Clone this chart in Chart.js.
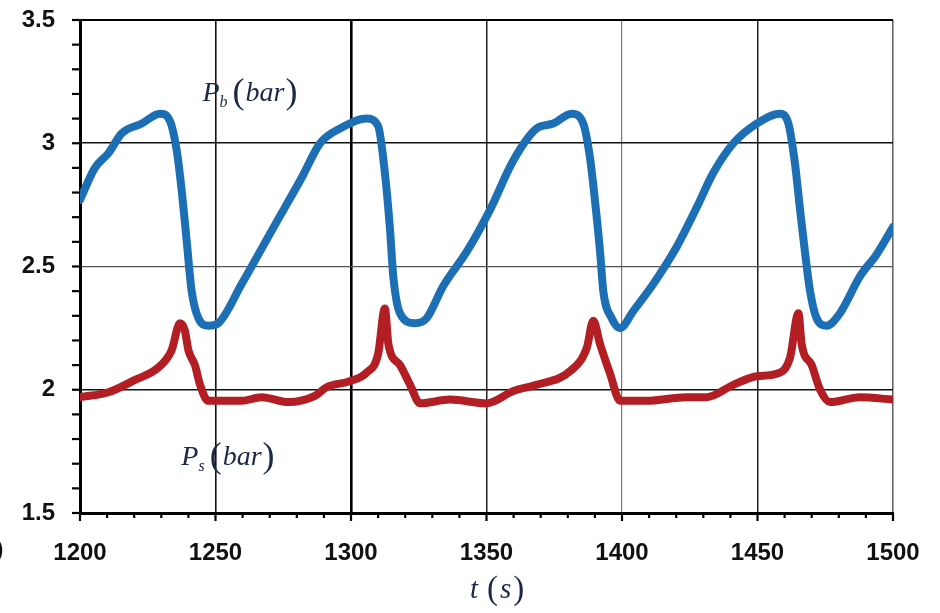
<!DOCTYPE html>
<html>
<head>
<meta charset="utf-8">
<script src="https://cdn.jsdelivr.net/npm/chart.js@4"></script>
<style>
  html, body { margin: 0; padding: 0; background: #fff; }
  canvas { display: block; }
</style>
</head>
<body>
<canvas id="c" width="940" height="613"></canvas>
<script>
// Time axis (s) and pressures (bar)
const tB = [1200, 1205.5, 1210.5, 1215.4, 1222.8, 1229.5, 1233.2, 1235.7, 1237.5, 1239.4,
            1241.2, 1243.7, 1247.4, 1251, 1259.7, 1272, 1281.8, 1288.6, 1296, 1305.8,
            1310, 1312.5, 1314.4, 1315.6, 1318.1, 1323.6, 1327.9, 1334, 1342.7, 1351.3,
            1359.9, 1368.5, 1374.6, 1381.4, 1385.7, 1388.2, 1390, 1391.9, 1393.1, 1396.2,
            1399.3, 1404.2, 1411.6, 1420.2, 1427.6, 1433.7, 1441.1, 1449.7, 1458.3, 1461.4,
            1463.8, 1465.7, 1467.5, 1469.4, 1471.8, 1475.5, 1480.4, 1487.8, 1494, 1500];
const pB = [2.77, 2.90, 2.96, 3.04, 3.08, 3.12, 3.09, 2.97, 2.81, 2.60,
            2.40, 2.29, 2.26, 2.27, 2.43, 2.67, 2.86, 3.00, 3.06, 3.10,
            3.07, 2.88, 2.65, 2.46, 2.31, 2.27, 2.29, 2.42, 2.56, 2.73,
            2.93, 3.06, 3.08, 3.12, 3.08, 2.94, 2.77, 2.56, 2.40, 2.29,
            2.25, 2.32, 2.43, 2.58, 2.74, 2.88, 3.00, 3.08, 3.12, 3.08,
            2.92, 2.73, 2.56, 2.40, 2.29, 2.26, 2.31, 2.46, 2.55, 2.66];

const tS = [1200, 1210.5, 1220.3, 1228.9, 1233.8, 1236.9, 1238.7, 1240, 1242.4, 1244.3,
            1247.3, 1259.7, 1267, 1276.9, 1286.7, 1291, 1299.6, 1305.8, 1310, 1312.5,
            1313.8, 1318.1, 1321.8, 1325.5, 1336.5, 1350.1, 1359.9, 1368.5, 1380.8, 1387,
            1389.4, 1391.9, 1395.6, 1399.3, 1409.1, 1423.8, 1431.2, 1441.1, 1449.7, 1457.1,
            1462, 1465.1, 1466.3, 1470, 1473.1, 1476.8, 1487.8, 1500];
const pS = [1.97, 1.99, 2.04, 2.09, 2.16, 2.27, 2.24, 2.16, 2.10, 2.02,
            1.955, 1.955, 1.97, 1.95, 1.975, 2.01, 2.035, 2.07, 2.145, 2.33,
            2.185, 2.10, 2.02, 1.945, 1.96, 1.945, 1.995, 2.02, 2.075, 2.17,
            2.28, 2.185, 2.065, 1.955, 1.955, 1.97, 1.97, 2.02, 2.055, 2.065,
            2.13, 2.31, 2.185, 2.10, 2.00, 1.95, 1.97, 1.96];

const xTicks = [1200, 1250, 1300, 1350, 1400, 1450, 1500];
const yTicks = [1.5, 2, 2.5, 3, 3.5];

// Gridline styling per tick
const xGridColor = {1200: '#000', 1250: '#111', 1300: '#000', 1350: '#222', 1400: '#777', 1450: '#222', 1500: '#666'};
const xGridWidth = {1200: 1, 1250: 1.6, 1300: 2.6, 1350: 1.5, 1400: 1.2, 1450: 1.5, 1500: 1.6};
const yGridColor = {1.5: '#000', 2: '#111', 2.5: '#555', 3: '#111', 3.5: '#000'};
const yGridWidth = {1.5: 1, 2: 1.6, 2.5: 1.2, 3: 1.6, 3.5: 2};

const inkColor = '#1c2846';
const tickFont = {family: '"Liberation Sans", Arial, sans-serif', weight: 'bold', size: 24};

// Small outward tick marks on both axes
const minorTicks = {
  id: 'minorTicks',
  afterDraw(chart) {
    const {ctx, chartArea: a, scales: {x, y}} = chart;
    ctx.save();
    ctx.strokeStyle = '#000';
    ctx.lineWidth = 2.2;
    for (let k = 15; k <= 35; k++) {
      const py = y.getPixelForValue(k / 10);
      ctx.beginPath();
      ctx.moveTo(a.left - 8, py);
      ctx.lineTo(a.left, py);
      ctx.stroke();
    }
    for (let t = 1200; t <= 1500; t += 10) {
      const px = x.getPixelForValue(t);
      const len = (t % 50 === 0) ? 8 : 5;
      ctx.beginPath();
      ctx.moveTo(px, a.bottom);
      ctx.lineTo(px, a.bottom + len);
      ctx.stroke();
    }
    ctx.restore();
  }
};

// Mixed-style text runs: italic symbols, subscripts, upright parentheses
function drawRuns(ctx, x, y, runs) {
  let cx = x;
  for (const r of runs) {
    ctx.font = r.font;
    ctx.fillText(r.text, cx, y + (r.dy || 0));
    cx += ctx.measureText(r.text).width + (r.gap || 0);
  }
}

const serif = '"Liberation Serif", "Times New Roman", serif';
const labelRuns = (sub) => [
  {text: 'P', font: `italic 28px ${serif}`},
  {text: sub, font: `italic 16px ${serif}`, dy: 6, gap: 5},
  {text: '(', font: `36px ${serif}`, dy: 2, gap: 1},
  {text: 'bar', font: `italic 28px ${serif}`, gap: 1},
  {text: ')', font: `36px ${serif}`, dy: 2}
];

const annotations = {
  id: 'annotations',
  afterDraw(chart) {
    const {ctx, scales: {x, y}} = chart;
    ctx.save();
    ctx.fillStyle = inkColor;
    ctx.textBaseline = 'alphabetic';
    ctx.textAlign = 'left';
    drawRuns(ctx, x.getPixelForValue(1245.2), y.getPixelForValue(3.172), labelRuns('b'));
    drawRuns(ctx, x.getPixelForValue(1237.4), y.getPixelForValue(1.696), labelRuns('s'));
    // axis title
    drawRuns(ctx, 470, 598, [
      {text: 't', font: `italic 29px ${serif}`, gap: 9},
      {text: '(', font: `33px ${serif}`, dy: 1, gap: 2},
      {text: 's', font: `italic 29px ${serif}`, gap: 2},
      {text: ')', font: `33px ${serif}`, dy: 1}
    ]);
    // fragment of a neighbouring label at the left edge
    ctx.fillStyle = '#111';
    ctx.font = `bold 22px "Liberation Sans", Arial, sans-serif`;
    ctx.fillText(')', -4, 556);
    ctx.restore();
  }
};

new Chart(document.getElementById('c').getContext('2d'), {
  type: 'line',
  data: {
    datasets: [
      {
        label: 'Pb',
        data: tB.map((t, i) => ({x: t, y: pB[i]})),
        borderColor: '#1d6fb5',
        borderWidth: 8,
        pointRadius: 0,
        cubicInterpolationMode: 'monotone',
        borderCapStyle: 'round',
        borderJoinStyle: 'round'
      },
      {
        label: 'Ps',
        data: tS.map((t, i) => ({x: t, y: pS[i]})),
        borderColor: '#b21e24',
        borderWidth: 8,
        pointRadius: 0,
        cubicInterpolationMode: 'monotone',
        borderCapStyle: 'round',
        borderJoinStyle: 'round'
      }
    ]
  },
  options: {
    responsive: false,
    animation: false,
    layout: {padding: {top: 20, right: 47, left: 0, bottom: 0}},
    plugins: {legend: {display: false}, tooltip: {enabled: false}},
    scales: {
      x: {
        type: 'linear',
        min: 1200, max: 1500,
        afterBuildTicks: s => { s.ticks = xTicks.map(v => ({value: v})); },
        afterFit: s => { s.height = 100; s.paddingLeft = 0; s.paddingRight = 0; },
        grid: {
          drawTicks: false,
          color: c => xGridColor[c.tick ? c.tick.value : 0] || '#444',
          lineWidth: c => xGridWidth[c.tick ? c.tick.value : 0] || 1
        },
        border: {display: true, color: '#000', width: 3},
        ticks: {font: tickFont, color: '#111', padding: 26, maxRotation: 0, autoSkip: false,
                callback: v => String(v)}
      },
      y: {
        type: 'linear',
        min: 1.5, max: 3.5,
        afterBuildTicks: s => { s.ticks = yTicks.map(v => ({value: v})); },
        afterFit: s => { s.width = 80; s.paddingTop = 0; s.paddingBottom = 0; },
        grid: {
          drawTicks: false,
          color: c => yGridColor[c.tick ? c.tick.value : 0] || '#444',
          lineWidth: c => yGridWidth[c.tick ? c.tick.value : 0] || 1
        },
        border: {display: true, color: '#000', width: 3},
        ticks: {font: tickFont, color: '#111', padding: 25, autoSkip: false,
                callback: v => String(v)}
      }
    }
  },
  plugins: [minorTicks, annotations]
});
</script>
</body>
</html>
